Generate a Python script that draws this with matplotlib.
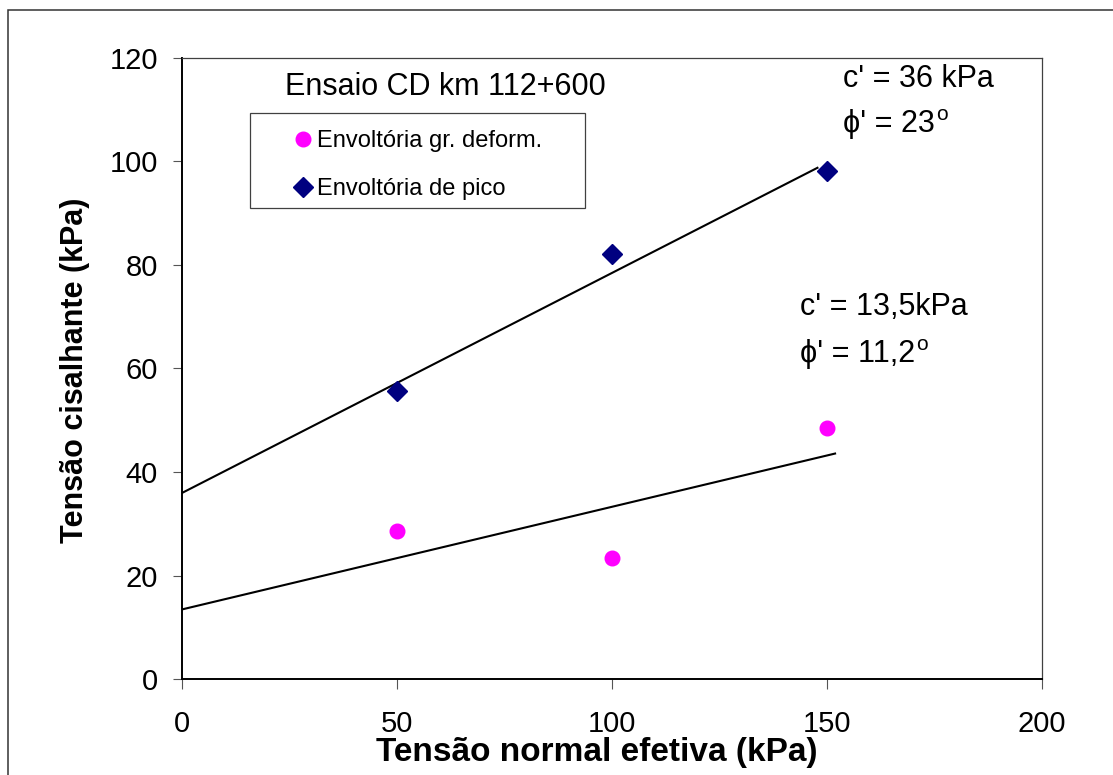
import numpy as np
import matplotlib
matplotlib.use("Agg")
import matplotlib.pyplot as plt
from matplotlib.patches import Rectangle

plt.rcParams['font.family'] = ['Liberation Sans', 'DejaVu Sans']

# ensaio CD km 112+600 - pontos de ruptura
sigma = [50, 100, 150]
tau_grdef = [28.7, 23.4, 48.6]
tau_pico = [55.6, 82.1, 98.2]

# parametros das envoltorias (c' em kPa, phi' em graus)
c_pico, phi_pico = 36.0, 23.0
c_grdef, phi_grdef = 13.5, 11.2
xmax_pico = 147.8
xmax_grdef = 151.9

fig = plt.figure(figsize=(11.13, 7.75), dpi=100)
fig.patches.append(Rectangle((0.0072, -0.1), 1.2, 1.0877, transform=fig.transFigure,
                             fill=False, edgecolor='#333333', linewidth=1.1))
ax = fig.add_axes([0.1638, 0.1235, 0.7722, 0.8021])

# envoltorias de Mohr-Coulomb
xp = np.array([0, xmax_pico])
ax.plot(xp, c_pico + np.tan(np.radians(phi_pico)) * xp, color='black', lw=1.5)
xg = np.array([0, xmax_grdef])
ax.plot(xg, c_grdef + np.tan(np.radians(phi_grdef)) * xg, color='black', lw=1.5)

ax.plot(sigma, tau_grdef, 'o', color='#FF00FF', ms=10.5, mec='#FF00FF',
        label='Envoltória gr. deform.', clip_on=False)
ax.plot(sigma, tau_pico, 'D', color='#000080', ms=10, mec='#000080',
        label='Envoltória de pico', clip_on=False)

ax.set_xlim(0, 200)
ax.set_ylim(0, 120)
ax.set_xticks([0, 50, 100, 150, 200])
ax.set_yticks([0, 20, 40, 60, 80, 100, 120])
ax.tick_params(axis='x', direction='out', length=7, width=0.8, color='#555555',
               pad=15, labelsize=21)
ax.tick_params(axis='y', direction='out', length=6.5, width=0.8, color='#555555',
               pad=11, labelsize=21)
for s in ['left', 'bottom']:
    ax.spines[s].set_color('black')
    ax.spines[s].set_linewidth(1.4)
for s in ['top', 'right']:
    ax.spines[s].set_color('#404040')
    ax.spines[s].set_linewidth(0.9)

ax.set_xlabel('Tensão normal efetiva (kPa)', fontsize=24, fontweight='bold')
ax.set_ylabel('Tensão cisalhante (kPa)', fontsize=22, fontweight='bold')
ax.xaxis.set_label_coords(0.482, -0.093)
ax.yaxis.set_label_coords(-0.107, 0.497)

ax.text(23.9, 112.8, 'Ensaio CD km 112+600', fontsize=22, va='baseline')

# caixa da legenda
ax.add_patch(Rectangle((0.0788, 0.7577), 0.3898, 0.1533, transform=ax.transAxes,
                       fill=False, edgecolor='#404040', linewidth=0.9))
ax.legend(loc='upper left', bbox_to_anchor=(0.1323, 0.883), frameon=False,
          fontsize=17, numpoints=1, handlelength=0.6, handletextpad=0.3,
          labelspacing=1.09, borderpad=0, borderaxespad=0)

# parametros de resistencia
def param(x, y, txt, sup):
    t = ax.text(x, y, txt, fontsize=22, va='baseline')
    ax.annotate(sup, xy=(1.0, 1.0), xycoords=t, xytext=(1, 3),
                textcoords='offset points', fontsize=15, va='top', ha='left')

ax.text(153.8, 114.3, "c' = 36 kPa", fontsize=22, va='baseline')
param(153.8, 105.7, "ϕ' = 23", 'o')
ax.text(143.7, 70.3, "c' = 13,5kPa", fontsize=22, va='baseline')
param(143.7, 61.3, "ϕ' = 11,2", 'o')

fig.savefig('out.png', dpi=100)
